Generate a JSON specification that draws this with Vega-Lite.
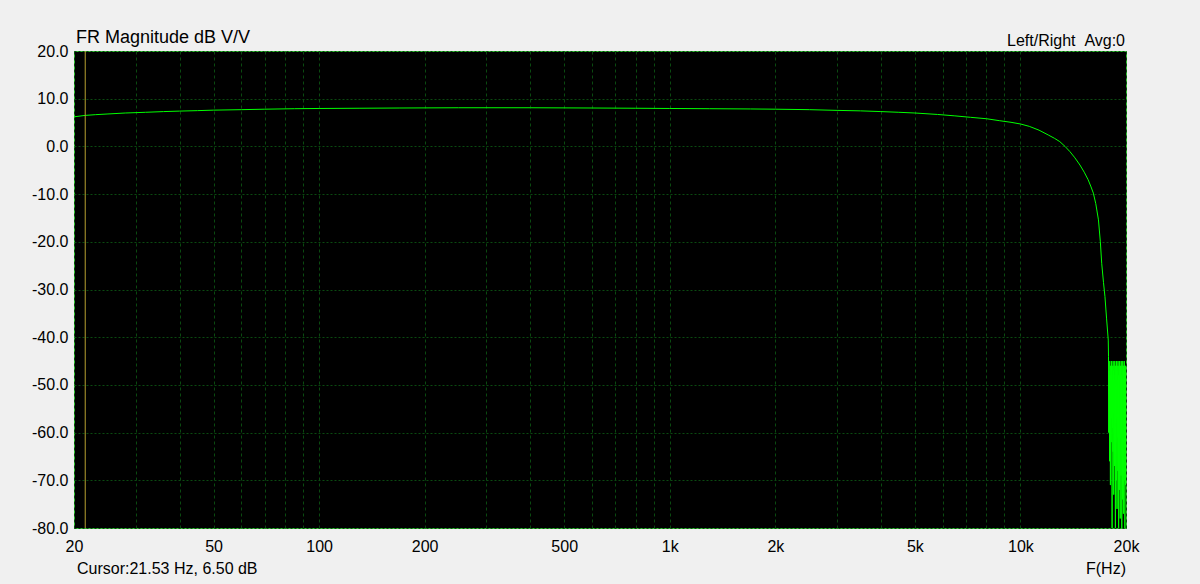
{
  "$schema": "https://vega.github.io/schema/vega-lite/v6.json",
  "width": 1052,
  "height": 477,
  "autosize": {"type": "none"},
  "padding": {"left": 74, "top": 51, "right": 74, "bottom": 56},
  "background": "#f0f0f0",
  "config": {
    "view": {"fill": "#000000", "stroke": "#2ec02e", "strokeWidth": 1},
    "font": "Liberation Sans",
    "axis": {
      "domain": false,
      "ticks": false,
      "tickSize": 0,
      "labelFont": "Liberation Sans",
      "labelFontSize": 16,
      "labelColor": "#000000",
      "gridColor": "#0a4a10",
      "gridWidth": 1,
      "gridOpacity": 1,
      "title": null
    }
  },
  "layer": [
    {
      "data": {
        "values": [
          {"f": 20, "db": 6.2}, {"f": 21.53, "db": 6.5}, {"f": 23, "db": 6.65}, {"f": 25, "db": 6.8},
          {"f": 28, "db": 7.0}, {"f": 32, "db": 7.15}, {"f": 36, "db": 7.3}, {"f": 40, "db": 7.4},
          {"f": 45, "db": 7.5}, {"f": 50, "db": 7.6}, {"f": 60, "db": 7.7}, {"f": 70, "db": 7.8},
          {"f": 85, "db": 7.9}, {"f": 100, "db": 7.95}, {"f": 130, "db": 8.0}, {"f": 170, "db": 8.05},
          {"f": 250, "db": 8.1}, {"f": 400, "db": 8.1}, {"f": 600, "db": 8.05}, {"f": 800, "db": 8.0},
          {"f": 1000, "db": 7.95}, {"f": 1300, "db": 7.9}, {"f": 1700, "db": 7.85}, {"f": 2000, "db": 7.8},
          {"f": 2500, "db": 7.7}, {"f": 3000, "db": 7.55}, {"f": 3500, "db": 7.45}, {"f": 4000, "db": 7.3},
          {"f": 4500, "db": 7.15}, {"f": 5000, "db": 7.0}, {"f": 5800, "db": 6.7}, {"f": 6500, "db": 6.4},
          {"f": 7200, "db": 6.1}, {"f": 8000, "db": 5.8}, {"f": 8700, "db": 5.4}, {"f": 9400, "db": 5.05},
          {"f": 10000, "db": 4.7}, {"f": 10600, "db": 4.2}, {"f": 11300, "db": 3.4}, {"f": 12000, "db": 2.4},
          {"f": 12500, "db": 1.7}, {"f": 12950, "db": 1.0}, {"f": 13400, "db": 0.0}, {"f": 13840, "db": -1.1},
          {"f": 14300, "db": -2.4}, {"f": 14780, "db": -3.9}, {"f": 15200, "db": -5.4}, {"f": 15600, "db": -7.0},
          {"f": 15900, "db": -8.5}, {"f": 16140, "db": -9.8}, {"f": 16400, "db": -12.0}, {"f": 16690, "db": -15.4},
          {"f": 16900, "db": -20.0}, {"f": 17050, "db": -24.5}, {"f": 17250, "db": -28.5}, {"f": 17420, "db": -31.5},
          {"f": 17600, "db": -36.0}, {"f": 17800, "db": -40.6},
          {"f": 17830, "db": -44}, {"f": 17855, "db": -60}, {"f": 17880, "db": -47}, {"f": 17905, "db": -52},
          {"f": 17930, "db": -49}, {"f": 17955, "db": -66}, {"f": 17980, "db": -45}, {"f": 18005, "db": -58},
          {"f": 18030, "db": -48}, {"f": 18055, "db": -71}, {"f": 18080, "db": -46}, {"f": 18105, "db": -55},
          {"f": 18130, "db": -50}, {"f": 18155, "db": -62}, {"f": 18180, "db": -45}, {"f": 18205, "db": -57},
          {"f": 18230, "db": -48}, {"f": 18255, "db": -80}, {"f": 18280, "db": -46}, {"f": 18305, "db": -59},
          {"f": 18330, "db": -49}, {"f": 18355, "db": -64}, {"f": 18380, "db": -45}, {"f": 18405, "db": -56},
          {"f": 18430, "db": -47}, {"f": 18455, "db": -73}, {"f": 18480, "db": -46}, {"f": 18505, "db": -60},
          {"f": 18530, "db": -49}, {"f": 18555, "db": -67}, {"f": 18580, "db": -45}, {"f": 18605, "db": -58},
          {"f": 18630, "db": -48}, {"f": 18655, "db": -80}, {"f": 18680, "db": -46}, {"f": 18705, "db": -62},
          {"f": 18730, "db": -50}, {"f": 18755, "db": -70}, {"f": 18780, "db": -45}, {"f": 18805, "db": -57},
          {"f": 18830, "db": -47}, {"f": 18855, "db": -76}, {"f": 18880, "db": -46}, {"f": 18905, "db": -61},
          {"f": 18930, "db": -49}, {"f": 18955, "db": -68}, {"f": 18980, "db": -45}, {"f": 19005, "db": -59},
          {"f": 19030, "db": -48}, {"f": 19055, "db": -80}, {"f": 19080, "db": -46}, {"f": 19105, "db": -63},
          {"f": 19130, "db": -49}, {"f": 19155, "db": -72}, {"f": 19180, "db": -45}, {"f": 19205, "db": -58},
          {"f": 19230, "db": -47}, {"f": 19255, "db": -78}, {"f": 19280, "db": -46}, {"f": 19305, "db": -61},
          {"f": 19330, "db": -50}, {"f": 19355, "db": -69}, {"f": 19380, "db": -45}, {"f": 19405, "db": -60},
          {"f": 19430, "db": -48}, {"f": 19455, "db": -80}, {"f": 19480, "db": -46}, {"f": 19505, "db": -64},
          {"f": 19530, "db": -49}, {"f": 19555, "db": -74}, {"f": 19580, "db": -45}, {"f": 19605, "db": -59},
          {"f": 19630, "db": -47}, {"f": 19655, "db": -77}, {"f": 19680, "db": -46}, {"f": 19705, "db": -62},
          {"f": 19730, "db": -50}, {"f": 19755, "db": -70}, {"f": 19780, "db": -45}, {"f": 19805, "db": -60},
          {"f": 19830, "db": -48}, {"f": 19855, "db": -80}, {"f": 19880, "db": -46}, {"f": 19905, "db": -63},
          {"f": 19930, "db": -49}, {"f": 19955, "db": -71}, {"f": 19980, "db": -46}, {"f": 20000, "db": -58}
        ]
      },
      "mark": {"type": "line", "color": "#00ff00", "strokeWidth": 1, "clip": true, "interpolate": "linear"},
      "encoding": {
        "x": {
          "field": "f", "type": "quantitative",
          "scale": {"type": "log", "domain": [20, 20000], "nice": false},
          "axis": {
            "values": [20, 30, 40, 50, 60, 70, 80, 90, 100, 200, 300, 400, 500, 600, 700, 800, 900, 1000, 2000, 3000, 4000, 5000, 6000, 7000, 8000, 9000, 10000, 20000],
            "labelExpr": "(datum.value==20||datum.value==50||datum.value==100||datum.value==200||datum.value==500) ? datum.value+'' : ((datum.value==1000||datum.value==2000||datum.value==5000||datum.value==10000||datum.value==20000) ? (datum.value/1000)+'k' : '')",
            "labelOverlap": false,
            "labelFlush": false,
            "labelPadding": 10,
            "gridDash": [3, 3]
          }
        },
        "y": {
          "field": "db", "type": "quantitative",
          "scale": {"domain": [-80, 20], "nice": false, "zero": false},
          "axis": {
            "values": [-80, -70, -60, -50, -40, -30, -20, -10, 0, 10, 20],
            "labelExpr": "replace(format(datum.value, '.1f'), '\u2212', '-')",
            "labelPadding": 6,
            "gridDash": [2, 2]
          }
        }
      }
    },
    {
      "data": {"values": [{"f": 21.53}]},
      "mark": {"type": "rule", "color": "#b8a030", "strokeWidth": 1},
      "encoding": {"x": {"field": "f", "type": "quantitative"}}
    },
    {
      "data": {"values": [{"label": "FR Magnitude dB V/V", "f": 20, "db": 20}]},
      "mark": {"type": "text", "align": "left", "baseline": "alphabetic", "fontSize": 18, "dx": 2, "dy": -8, "color": "#000000"},
      "encoding": {"x": {"field": "f", "type": "quantitative"}, "y": {"field": "db", "type": "quantitative"}, "text": {"field": "label"}}
    },
    {
      "data": {"values": [{"label": "Left/Right \u00a0Avg:0", "f": 20000, "db": 20}]},
      "mark": {"type": "text", "align": "right", "baseline": "alphabetic", "fontSize": 16, "dx": -1, "dy": -5, "color": "#000000"},
      "encoding": {"x": {"field": "f", "type": "quantitative"}, "y": {"field": "db", "type": "quantitative"}, "text": {"field": "label"}}
    },
    {
      "data": {"values": [{"label": "Cursor:21.53 Hz, 6.50 dB", "f": 20, "db": -80}]},
      "mark": {"type": "text", "align": "left", "baseline": "alphabetic", "fontSize": 16, "dx": 3, "dy": 46, "color": "#000000"},
      "encoding": {"x": {"field": "f", "type": "quantitative"}, "y": {"field": "db", "type": "quantitative"}, "text": {"field": "label"}}
    },
    {
      "data": {"values": [{"label": "F(Hz)", "f": 20000, "db": -80}]},
      "mark": {"type": "text", "align": "right", "baseline": "alphabetic", "fontSize": 16, "dx": 0, "dy": 46, "color": "#000000"},
      "encoding": {"x": {"field": "f", "type": "quantitative"}, "y": {"field": "db", "type": "quantitative"}, "text": {"field": "label"}}
    }
  ]
}
